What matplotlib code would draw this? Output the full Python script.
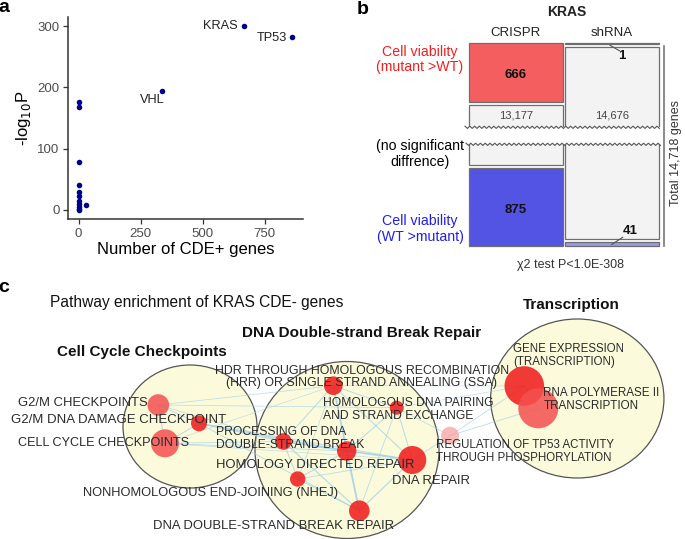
import numpy as np
import matplotlib
matplotlib.use('Agg')
import matplotlib.pyplot as plt
from matplotlib.patches import Rectangle, Ellipse, Circle

plt.rcParams['font.family'] = ['Liberation Sans', 'DejaVu Sans']

# ---------------- data: panel a ----------------
gene_names = ['KRAS', 'TP53', 'VHL', '', '', '', '', '', '', '', '', '', '', '', '']
cde_counts = [665, 860, 335, 0, 2, 0, 0, 2, 2, 0, 0, 0, 30, 0, 0]
neg_log10_p = [300, 283, 194, 176, 168, 79, 41, 30, 23, 14, 10, 5, 8, 2, 0]
xticks_a = [0, 250, 500, 750]
yticks_a = [0, 100, 200, 300]

# ---------------- data: panel b ----------------
methods = ['CRISPR', 'shRNA']
row_labels = ['Cell viability\n(mutant >WT)', '(no significant\ndiffrence)', 'Cell viability\n(WT >mutant)']
row_colors = ['#F02020', 'black', '#2020E8']
crispr_counts = [666, 13177, 875]
shrna_counts = [1, 14676, 41]
total_genes = 14718
test_text = 'χ2 test P<1.0E-308'

# ---------------- data: panel c ----------------
clusters = ['Cell Cycle Checkpoints', 'DNA Double-strand Break Repair', 'Transcription']
pathways = ['G2/M CHECKPOINTS', 'G2/M DNA DAMAGE CHECKPOINT', 'CELL CYCLE CHECKPOINTS',
            'HDR THROUGH HOMOLOGOUS RECOMBINATION\n(HRR) OR SINGLE STRAND ANNEALING (SSA)',
            'HOMOLOGOUS DNA PAIRING\nAND STRAND EXCHANGE',
            'PROCESSING OF DNA\nDOUBLE-STRAND BREAK',
            'HOMOLOGY DIRECTED REPAIR', 'DNA REPAIR',
            'NONHOMOLOGOUS END-JOINING (NHEJ)', 'DNA DOUBLE-STRAND BREAK REPAIR',
            'REGULATION OF TP53 ACTIVITY\nTHROUGH PHOSPHORYLATION',
            'GENE EXPRESSION\n(TRANSCRIPTION)', 'RNA POLYMERASE II\nTRANSCRIPTION']
node_size = [10.8, 8, 14, 9.3, 7, 8.3, 9.7, 14, 7.7, 10.3, 9, 19.8, 20]
node_signif = [2, 3, 2, 3, 3, 3, 3, 3, 3, 3, 1, 3, 2]
edges = [(0, 1, 1.0), (0, 2, 1.0), (1, 2, 1.0),
         (0, 3, 0.7), (0, 4, 0.7), (0, 5, 0.7), (2, 5, 0.8), (2, 3, 0.6),
         (1, 5, 1.2), (1, 6, 1.2), (1, 7, 0.9), (1, 9, 0.9), (2, 7, 0.6), (2, 6, 0.8),
         (3, 4, 0.9), (3, 5, 1.0), (3, 6, 1.6), (3, 7, 1.0), (3, 9, 0.9), (3, 8, 0.7),
         (4, 6, 1.0), (4, 7, 1.0), (4, 9, 0.8), (4, 10, 0.7), (4, 11, 0.6),
         (5, 6, 1.6), (5, 7, 1.0), (5, 8, 1.0), (5, 9, 1.2),
         (6, 7, 1.4), (6, 9, 1.8), (6, 8, 1.0), (8, 7, 0.8), (8, 9, 1.0), (7, 9, 1.2),
         (7, 10, 0.8), (10, 11, 0.8), (10, 12, 0.8), (3, 11, 0.6), (11, 12, 1.0)]

# ---------------- figure ----------------
fig = plt.figure(figsize=(6.85, 5.39), dpi=100)
ov = fig.add_axes([0, 0, 1, 1])
ov.set_xlim(0, 685)
ov.set_ylim(539, 0)
ov.axis('off')

# panel labels
for lab, (px, py) in zip(['a', 'b', 'c'], [(4, 8), (363, 10), (4, 287)]):
    ov.text(px, py, lab, fontsize=14, fontweight='bold', ha='center', va='center')

# ---------------- panel a ----------------
ax = fig.add_axes([68 / 685, 1 - 219 / 539, (303 - 68) / 685, (219 - 17) / 539])
ax.scatter(cde_counts, neg_log10_p, s=16, color='#00008B', zorder=3, linewidths=0)
ax.set_xlim(-43, 904)
ax.set_ylim(-14.7, 315)
ax.set_xticks(xticks_a)
ax.set_yticks(yticks_a)
for sp in ['top', 'right']:
    ax.spines[sp].set_visible(False)
for sp in ['left', 'bottom']:
    ax.spines[sp].set_color('#333333')
    ax.spines[sp].set_linewidth(1.1)
ax.tick_params(colors='#333333', labelcolor='#4D4D4D', labelsize=9.5, length=3.6, width=0.9, pad=2.6)
ax.set_xlabel('Number of CDE+ genes', fontsize=12, labelpad=2)
ax.set_ylabel('-log$_{10}$P', fontsize=12, labelpad=3)
ax.patch.set_alpha(0)
label_offsets = {'KRAS': (-4.5, 0, 'right'), 'TP53': (-4, -1, 'right'), 'VHL': (1.7, -6.7, 'right')}
for g, xv, yv in zip(gene_names, cde_counts, neg_log10_p):
    if g:
        dx, dy, ha = label_offsets[g]
        ax.annotate(g, (xv, yv), xytext=(dx, dy), textcoords='offset points',
                    ha=ha, va='center', fontsize=9.2, color='#222222')

# ---------------- panel b ----------------
col_left = [469.3, 565.3]
col_w = 93.3
top_y, bot_y = 43.3, 246.0
px_per_gene = 0.0888
gap = 3.0
face = ['#F45E5E', '#F4F3F3', '#5454E4']
edge = '#6E6E6E'
for ci, counts in enumerate([crispr_counts, shrna_counts]):
    x0 = col_left[ci]
    h_top = max(counts[0] * px_per_gene, 0.8)
    h_bot = max(counts[2] * px_per_gene, 0.8)
    boxes = [(top_y, h_top), (top_y + h_top + gap, bot_y - h_bot - gap - (top_y + h_top + gap)),
             (bot_y - h_bot, h_bot)]
    for bi, (y0, h) in enumerate(boxes):
        fc = face[bi]
        if ci == 1 and bi == 2:
            fc = '#9A9AEC'
        ov.add_patch(Rectangle((x0, y0), col_w, h, facecolor=fc, edgecolor=edge, lw=0.9, zorder=2))
    ov.text(x0 + col_w / 2, 33, methods[ci], ha='center', va='center', fontsize=9.5, color='#222222')
ov.text(566.5, 12, 'KRAS', ha='center', va='center', fontsize=10, fontweight='bold', color='#222222')

# count labels
ov.text(col_left[0] + col_w / 2, 74.7, f'{crispr_counts[0]}', ha='center', va='center', fontsize=9.5, fontweight='bold', color='#111111', zorder=5)
ov.text(col_left[0] + col_w / 2, 210, f'{crispr_counts[2]}', ha='center', va='center', fontsize=9.5, fontweight='bold', color='#111111', zorder=5)
ov.text(col_left[0] + col_w / 2, 116, f'{crispr_counts[1]:,}', ha='center', va='center', fontsize=8, color='#444444', zorder=5)
ov.text(col_left[1] + col_w / 2, 116, f'{shrna_counts[1]:,}', ha='center', va='center', fontsize=8, color='#444444', zorder=5)
ov.plot([610, 619.3], [45.2, 50.7], color='#555555', lw=0.8, zorder=5)
ov.text(622, 56, f'{shrna_counts[0]}', ha='center', va='center', fontsize=9.5, fontweight='bold', color='#111111', zorder=5)
ov.plot([611.7, 622.7], [244.5, 237.3], color='#555555', lw=0.8, zorder=5)
ov.text(630, 231, f'{shrna_counts[2]}', ha='center', va='center', fontsize=9.5, fontweight='bold', color='#111111', zorder=5)

# broken axis band
ov.add_patch(Rectangle((462, 127.3), 201, 17, facecolor='white', edgecolor='none', zorder=3))
zx = np.arange(465, 660.1, 2.4)
zz = np.where(np.arange(len(zx)) % 2 == 0, -1.1, 1.1)
ov.plot(zx, 127.3 + zz, color='#555555', lw=0.8, zorder=4)
ov.plot(zx + 1, 144.3 + zz, color='#555555', lw=0.8, zorder=4)

# total genes bracket
ov.plot([664, 664], [46, 246], color='#777777', lw=1.2)
ov.text(676.5, 153, f'Total {total_genes:,} genes', rotation=90, ha='center', va='center', fontsize=9, color='#333333')

# row labels
for lab, col, yy in zip(row_labels, row_colors, [59.5, 154, 228.7]):
    ov.text(420, yy, lab, ha='center', va='center', fontsize=10.2, color=col,
            multialignment='center', linespacing=1.15)
ov.text(571, 265, test_text, ha='center', va='center', fontsize=9, color='#333333')

# ---------------- panel c ----------------
ov.text(50, 302, 'Pathway enrichment of KRAS CDE- genes', ha='left', va='center', fontsize=11.2, color='#111111')
cluster_xy = [(142, 352), (362, 333), (571, 305)]
for name, (cx, cy) in zip(clusters, cluster_xy):
    ov.text(cx, cy, name, ha='center', va='center', fontsize=11, fontweight='bold', color='#111111')

cluster_circles = [((190, 426.5), 134, 123), ((347, 450), 184, 177), ((577.3, 398.5), 173.3, 159)]
for (c, w, h) in cluster_circles:
    ov.add_patch(Ellipse(c, w, h, facecolor='#FBFBDC', edgecolor='#555555', lw=0.9, zorder=1))

node_xy = [(158.3, 405), (199, 423.3), (165, 443.3), (333.3, 385.7), (396.7, 407.7),
           (283.3, 441.5), (346.7, 451), (412.3, 460), (297.7, 479), (359.3, 510.7),
           (450, 435.7), (524.3, 386), (538.3, 408.3)]
for i, j, w in edges:
    (x1, y1), (x2, y2) = node_xy[i], node_xy[j]
    ov.plot([x1, x2], [y1, y2], color='#A6D0E6', lw=w * 0.75, alpha=0.75, zorder=2, solid_capstyle='round')

shade = {1: ('#F7A8A8', 0.8), 2: ('#F55050', 0.85), 3: ('#F01E1E', 0.88)}
for (x, y), r, s in zip(node_xy, node_size, node_signif):
    fc, a = shade[s]
    ov.add_patch(Circle((x, y), r, facecolor=fc, edgecolor='none', alpha=a, zorder=3))

label_pos = [(18, 402.7, 'left', 9.4), (10.7, 420, 'left', 9.5), (18, 443.3, 'left', 9.1),
             (362, 377, 'center', 8.9), (323, 409.3, 'left', 8.7), (216, 438.3, 'left', 8.75),
             (216, 465, 'left', 9.4), (391.7, 481, 'left', 9.4), (83.3, 493.3, 'left', 9.3),
             (152.7, 526, 'left', 9.4), (436, 451.3, 'left', 8.3), (513, 355.3, 'left', 8.3),
             (543.3, 399.3, 'left', 8.4)]
for txt, (x, y, ha, fs) in zip(pathways, label_pos):
    ov.text(x, y, txt, ha=ha, va='center', fontsize=fs, color='#2A2A2A', zorder=4,
            multialignment=ha, linespacing=1.05)

fig.savefig('out.png', dpi=100)
